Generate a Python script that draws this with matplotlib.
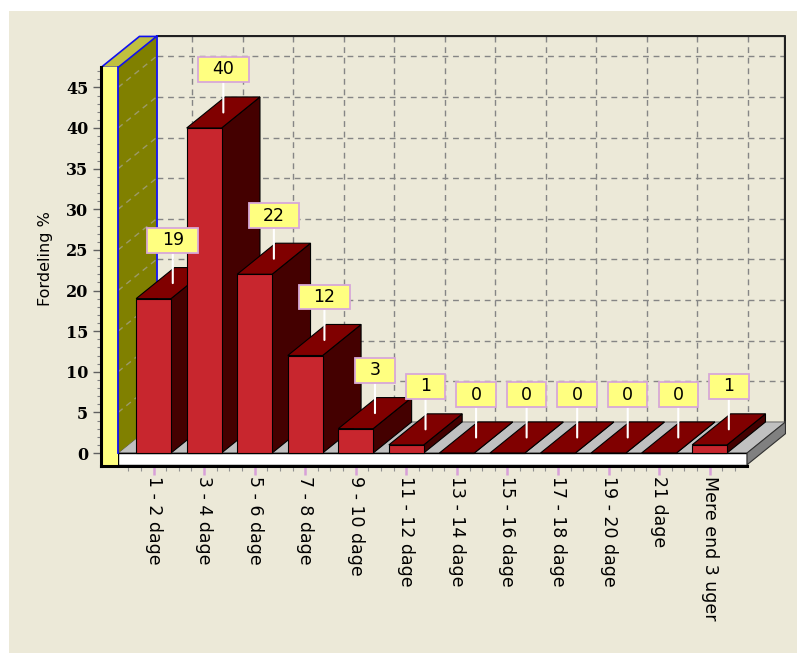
import matplotlib
matplotlib.use("Agg")
import matplotlib.pyplot as plt
from matplotlib.patches import Polygon, Rectangle
from matplotlib.path import Path
from matplotlib.ticker import FixedLocator
import numpy as np

# ---- data -------------------------------------------------------------
categories = ["1 - 2 dage", "3 - 4 dage", "5 - 6 dage", "7 - 8 dage",
              "9 - 10 dage", "11 - 12 dage", "13 - 14 dage", "15 - 16 dage",
              "17 - 18 dage", "19 - 20 dage", "21 dage", "Mere end 3 uger"]
values = [19, 40, 22, 12, 3, 1, 0, 0, 0, 0, 0, 1]
y_ticks = [0, 5, 10, 15, 20, 25, 30, 35, 40, 45]
y_label = "Fordeling %"

# ---- pseudo-3D geometry (data units) ----------------------------------
DX, DY = 0.76, 3.82          # depth offset of the back plane
BAR_W = 0.69                 # bar width
WALL_TOP = 47.45             # height of the side wall / back wall
FLOOR_T = 1.45               # floor slab thickness
X_LEFT = -1.04               # axis position
X_WALL = -0.702              # right face of the left wall
X_FLOOR_R = 11.74            # right end of the floor

BG = "#ECE9D8"
W, H = 797, 653
fig = plt.figure(figsize=(W / 100, H / 100), dpi=100, facecolor="white")
fig.add_artist(Rectangle((9 / W, 0), 1 - 9 / W, 1 - 11 / H,
                         transform=fig.transFigure, facecolor=BG,
                         edgecolor="none", zorder=-10))

ax = fig.add_axes([101 / W, (H - 466) / H, 685 / W, 431 / H])
ax.set_facecolor("none")
ax.set_xlim(X_LEFT, X_LEFT + 685 / 50.55)
ax.set_ylim(-1.6, -1.6 + 431 / 8.125)

# ---- back wall with grid ---------------------------------------------
bx0, bx1 = X_WALL + DX, X_FLOOR_R + DX
by0, by1 = DY, WALL_TOP + DY
grid_style = dict(color="#858585", linewidth=1.0, linestyle=(0, (4.2, 3.4)), zorder=1)
ax.hlines([v + DY for v in y_ticks[1:]], bx0, bx1, **grid_style)
ax.vlines([i + DX for i in range(len(categories))], by0, by1, **grid_style)
ax.plot([bx0, bx1, bx1], [by1, by1, by0], color="#202020", lw=1.6,
        zorder=1.5, solid_capstyle="projecting")

# ---- floor ------------------------------------------------------------
ax.add_patch(Polygon([(X_WALL, 0), (X_FLOOR_R, 0), (X_FLOOR_R + DX, DY),
                      (X_WALL + DX, DY)], closed=True, facecolor="#C0C0C0",
                     edgecolor="#505050", lw=0.6, zorder=2))
ax.add_patch(Rectangle((X_WALL, -FLOOR_T), X_FLOOR_R - X_WALL, FLOOR_T,
                       facecolor="white", edgecolor="black", lw=1.0, zorder=2.2))
ax.add_patch(Polygon([(X_FLOOR_R, -FLOOR_T), (X_FLOOR_R, 0),
                      (X_FLOOR_R + DX, DY), (X_FLOOR_R + DX, DY - FLOOR_T)],
                     closed=True, facecolor="#808080", edgecolor="#303030",
                     lw=0.8, zorder=2.2))

# ---- left wall ----------------------------------------------------------
ax.add_patch(Polygon([(X_WALL, 0), (X_WALL, WALL_TOP), (X_WALL + DX, WALL_TOP + DY),
                      (X_WALL + DX, DY)], closed=True, facecolor="#808000",
                     edgecolor="none", zorder=3))
for v in y_ticks[1:]:
    ax.plot([X_WALL, X_WALL + DX], [v, v + DY], color="#9c9a6a", lw=1.0,
            linestyle=(0, (4.2, 3.4)), zorder=3.1)
ax.add_patch(Polygon([(X_LEFT, WALL_TOP), (X_WALL, WALL_TOP),
                      (X_WALL + DX, WALL_TOP + DY), (X_LEFT + DX, WALL_TOP + DY)],
                     closed=True, facecolor="#C0C040", edgecolor="#1010F0",
                     lw=1.2, zorder=3.2))
ax.add_patch(Rectangle((X_LEFT, -FLOOR_T), X_WALL - X_LEFT, WALL_TOP + FLOOR_T,
                       facecolor="#FFFF80", edgecolor="none", zorder=3.3))
ax.plot([X_WALL, X_WALL], [0, WALL_TOP], color="#1010F0", lw=1.3, zorder=3.4)
ax.plot([X_WALL + DX, X_WALL + DX], [DY, WALL_TOP + DY], color="#1010F0",
        lw=1.3, zorder=3.4)

# ---- bars -------------------------------------------------------------
for i, v in enumerate(values):
    z = 5 + i * 0.01
    x0, x1 = i - BAR_W / 2, i + BAR_W / 2
    ax.add_patch(Polygon([(x1, 0), (x1, v), (x1 + DX, v + DY), (x1 + DX, DY)],
                         closed=True, facecolor="#440000", edgecolor="black",
                         lw=0.8, zorder=z))
    ax.add_patch(Polygon([(x0, v), (x1, v), (x1 + DX, v + DY), (x0 + DX, v + DY)],
                         closed=True, facecolor="#800000", edgecolor="black",
                         lw=0.8, zorder=z + 0.001))
    ax.add_patch(Rectangle((x0, 0), BAR_W, v, facecolor="#C8262E",
                           edgecolor="black", lw=0.8, zorder=z + 0.002))


# ---- value labels -------------------------------------------------------
def label_box(x0, y0, width, height, mutation_size):
    px, py = 0.82 * mutation_size, 0.2 * mutation_size
    x0, y0 = x0 - px, y0 - py
    x1, y1 = x0 + width + 2 * px, y0 + height + 2 * py
    return Path([(x0, y0), (x1, y0), (x1, y1), (x0, y1), (x0, y0)], closed=True)


for i, v in enumerate(values):
    xc = i + DX / 2
    ax.annotate(str(v), xy=(xc, v + DY / 2), xytext=(xc, v + 7.2),
                ha="center", va="center", fontsize=12.5, color="black",
                bbox=dict(boxstyle=label_box, facecolor="#FFFF80",
                          edgecolor="#D8A8D8", lw=1.3),
                arrowprops=dict(arrowstyle="-", color="white", lw=1.5,
                                shrinkA=0, shrinkB=0),
                zorder=20)

# ---- axes, ticks, labels ------------------------------------------------
for side in ("top", "right"):
    ax.spines[side].set_visible(False)
ax.spines["left"].set_bounds(-1.6, WALL_TOP)
ax.spines["bottom"].set_bounds(X_LEFT, X_FLOOR_R)
for side in ("left", "bottom"):
    ax.spines[side].set_linewidth(2.2)
    ax.spines[side].set_color("black")
    ax.spines[side].set_zorder(15)

ax.set_yticks(y_ticks)
ax.yaxis.set_minor_locator(FixedLocator(np.arange(0, 48, 1)))
ax.tick_params(axis="y", which="major", length=5.5, width=1.0, color="#606060",
               pad=3.6, labelsize=11.5)
ax.tick_params(axis="y", which="minor", length=2.6, width=0.8, color="#808080")
for lab in ax.get_yticklabels():
    lab.set_fontfamily("DejaVu Serif")
    lab.set_fontweight("bold")

ax.set_xticks(range(len(categories)))
ax.set_xticklabels(categories, rotation=270, fontsize=12.5)
ax.xaxis.set_minor_locator(FixedLocator(np.arange(-0.5, 11.6, 0.25)))
ax.tick_params(axis="x", which="major", length=6.5, width=1.8, color="#D8A0D8", pad=1)
ax.tick_params(axis="x", which="minor", length=3.5, width=0.8, color="#909090")

ax.set_ylabel(y_label, fontsize=11.5)
ax.yaxis.set_label_coords((53 - 101) / 685, (H - 259 - 187) / 431)

fig.savefig("out.png", dpi=100, facecolor=fig.get_facecolor())
